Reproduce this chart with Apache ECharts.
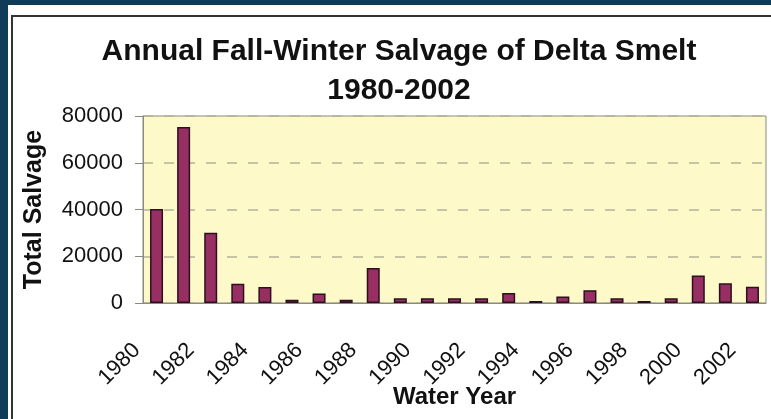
<!DOCTYPE html>
<html>
<head>
<meta charset="utf-8">
<script src="https://cdn.jsdelivr.net/npm/echarts@6/dist/echarts.min.js"></script>
<style>
    html, body { margin: 0; padding: 0; }
    body { width: 771px; height: 419px; background: #0f3d59; position: relative; overflow: hidden; }
    #panel { position: absolute; left: 8px; top: 5px; right: 0; bottom: 0; background: #ffffff; }
    #edge { position: absolute; left: 11px; top: 15px; right: 0; bottom: 0; border-left: 2px solid #333; border-top: 2px solid #333; }
    #chart { position: absolute; left: 0; top: 0; width: 771px; height: 419px; }
</style>
</head>
<body>
<div id="panel"></div>
<div id="edge"></div>
<div id="chart"></div>
<script>
var years = ['1980', '1981', '1982', '1983', '1984', '1985', '1986', '1987', '1988', '1989', '1990', '1991',
    '1992', '1993', '1994', '1995', '1996', '1997', '1998', '1999', '2000', '2001', '2002'];
var salvage = [40200, 75300, 30100, 8200, 6800, 1400, 4100, 1400, 15000, 2000, 2000, 2000,
    2000, 4300, 850, 2800, 5500, 2000, 850, 2000, 11800, 8400, 6900];
var yTicks = [0, 20000, 40000, 60000, 80000];

var fontFamily = '"Liberation Sans", Arial, sans-serif';

const chartDom = document.getElementById('chart');
const chart = echarts.init(chartDom);

const option = {
    backgroundColor: 'transparent',
    animation: false,
    title: {
        text: 'Annual Fall-Winter Salvage of Delta Smelt\n1980-2002',
        left: 399,
        top: 32,
        textAlign: 'center',
        padding: 0,
        textStyle: {
            fontFamily: fontFamily,
            fontSize: 30,
            fontWeight: 'bold',
            lineHeight: 39,
            color: '#111'
        }
    },
    grid: {
        left: 143,
        right: 5,
        top: 116,
        bottom: 116,
        outerBoundsMode: 'none',
        show: true,
        backgroundColor: '#fdf9c8',
        borderColor: '#8a8a80',
        borderWidth: 1
    },
    xAxis: {
        type: 'category',
        data: years,
        name: 'Water Year',
        nameLocation: 'middle',
        nameGap: 82,
        nameMoveOverlap: false,
        nameTextStyle: {
            fontFamily: fontFamily,
            fontSize: 24,
            fontWeight: 'bold',
            color: '#111'
        },
        axisLine: {
            lineStyle: { color: '#8a8a80', width: 1 }
        },
        axisTick: {
            interval: 0,
            length: 7,
            lineStyle: { color: '#8a8a80' }
        },
        axisLabel: {
            interval: 1,
            rotate: 45,
            margin: 24,
            padding: [0, 28, 0, 0],
            fontFamily: fontFamily,
            fontSize: 22,
            color: '#111'
        }
    },
    yAxis: {
        type: 'value',
        min: yTicks[0],
        max: yTicks[yTicks.length - 1],
        interval: 20000,
        name: 'Total Salvage',
        nameLocation: 'middle',
        nameGap: 96,
        nameMoveOverlap: false,
        nameTextStyle: {
            fontFamily: fontFamily,
            fontSize: 25,
            fontWeight: 'bold',
            color: '#111'
        },
        axisLine: {
            show: true,
            lineStyle: { color: '#8a8a80', width: 1 }
        },
        axisTick: {
            show: true,
            length: 8,
            lineStyle: { color: '#8a8a80' }
        },
        axisLabel: {
            margin: 20,
            fontFamily: fontFamily,
            fontSize: 22,
            color: '#111',
            formatter: function (value) {
                return String(value);
            }
        },
        splitLine: {
            show: true,
            lineStyle: {
                color: '#b3b39c',
                width: 1.5,
                type: [10, 11]
            }
        }
    },
    series: [
        {
            name: 'Total Salvage',
            type: 'bar',
            data: salvage,
            barWidth: 13,
            itemStyle: {
                color: '#982f63',
                borderColor: '#2b1020',
                borderWidth: 1.5
            }
        }
    ]
};

option && chart.setOption(option);
</script>
</body>
</html>
